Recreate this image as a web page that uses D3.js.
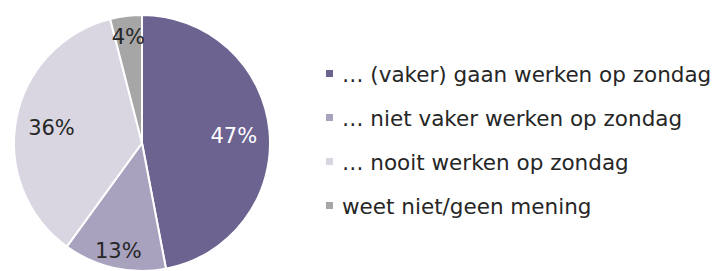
<!DOCTYPE html>
<html>
<head>
<meta charset="utf-8">
<script src="https://cdn.jsdelivr.net/npm/d3@7"></script>
<style>
  body { margin: 0; background: #fff; }
  svg { display: block; }
</style>
</head>
<body>
<svg id="chart"></svg>
<script>
let width = 713;
let height = 271;

// data
const categories = ["… (vaker) gaan werken op zondag", "… niet vaker werken op zondag", "… nooit werken op zondag", "weet niet/geen mening"];
const values = [47, 13, 36, 4];
const sliceColors = ["#6c6391", "#a8a2bf", "#d9d6e2", "#a6a6a6"];

let radius = 128;
let center = {"x": 142, "y": 143};

let svg = d3.select("#chart")
    .attr("width", width)
    .attr("height", height);

let g = svg.append("g")
    .attr("transform", `translate(${center.x}, ${center.y})`);

let color = d3.scaleOrdinal()
    .domain(categories)
    .range(sliceColors);

let pie = d3.pie()
    .value((d) => d.value)
    .sort(null);

let data = categories.map((c, i) => ({"name": c, "value": values[i]}));
let arcs = pie(data);

let arc = d3.arc()
    .innerRadius(0)
    .outerRadius(radius);

g.selectAll("path.slice")
    .data(arcs)
    .enter().append("path")
    .attr("class", "slice")
    .attr("d", arc)
    .style("fill", (d) => color(d.data.name))
    .style("stroke", "#ffffff")
    .style("stroke-width", 2);

// small slices get their label pushed out a bit
function labelArc(d) {
    let r = d.data.value < 20 ? radius * 0.85 : radius * 0.72;
    return d3.arc().innerRadius(r).outerRadius(r).centroid(d);
}

g.selectAll("text.label")
    .data(arcs)
    .enter().append("text")
    .attr("class", "label")
    .attr("x", (d) => labelArc(d)[0])
    .attr("y", (d) => labelArc(d)[1] + 2)
    .attr("text-anchor", "middle")
    .attr("dominant-baseline", "central")
    .style("font-family", "'DejaVu Sans', Verdana, sans-serif")
    .style("font-size", "21px")
    .style("fill", (d, i) => i == 0 ? "#ffffff" : "#262626")
    .text((d) => d.data.value + "%");

// legend
let legendY = d3.scalePoint()
    .domain(categories)
    .range([74, 206]);

let legend = svg.selectAll("g.legend")
    .data(categories)
    .enter().append("g")
    .attr("class", "legend")
    .attr("transform", (d) => `translate(326, ${legendY(d)})`);

legend.append("rect")
    .attr("x", 0)
    .attr("y", -4)
    .attr("width", 7)
    .attr("height", 7)
    .style("fill", (d) => color(d));

legend.append("text")
    .attr("x", 16)
    .attr("y", 0)
    .attr("dominant-baseline", "central")
    .style("font-family", "'DejaVu Sans', Verdana, sans-serif")
    .style("font-size", "21.5px")
    .style("fill", "#262626")
    .text((d) => d);
</script>
</body>
</html>
